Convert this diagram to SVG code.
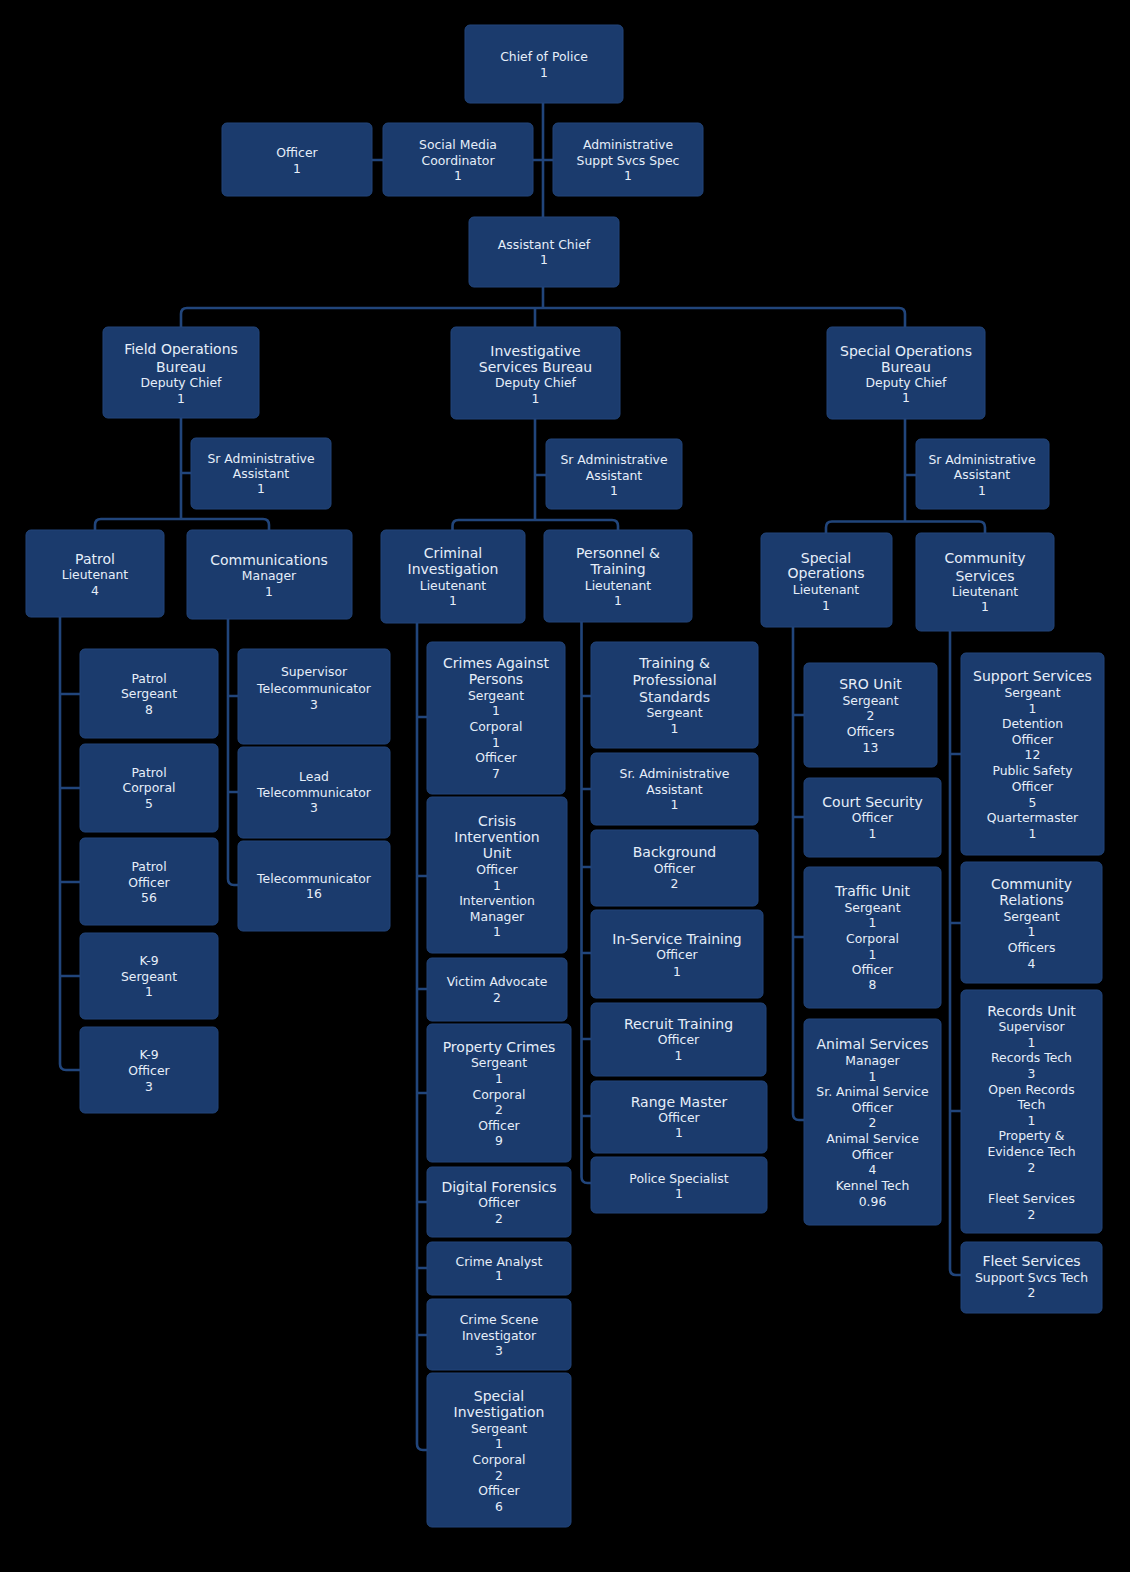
<svg xmlns="http://www.w3.org/2000/svg" width="1130" height="1572" viewBox="0 0 1130 1572">
<style>
.bg{fill:#000}
.n rect{fill:#1b3b6d;stroke:#22457a;stroke-width:1}
text{font-family:"DejaVu Sans","Liberation Sans",sans-serif;fill:#e6eef9;text-anchor:middle}
.t{font-size:14px}
.s{font-size:12.4px}
.c{fill:none;stroke:#21457b;stroke-width:2.6;stroke-linejoin:round}
</style>
<rect class="bg" x="0" y="0" width="1130" height="1572"/>
<g id="connectors" class="c">
<path d="M543,103V217M372,160H383M532,160H553M543,287V308"/>
<path d="M181,327V314Q181,308 187,308H899Q905,308 905,314V327M535,308V327"/>
<path d="M181,418V519M181,473H191M95,530V525Q95,519 101,519H263Q269,519 269,525V530"/>
<path d="M535,419V520M535,475H546M452.5,530V526Q452.5,520 458.5,520H612Q618,520 618,526V530"/>
<path d="M905,419V521.5M905,475H916M826,533V527.5Q826,521.5 832,521.5H979Q985,521.5 985,527.5V533"/>
<path d="M60,617V1064Q60,1070 66,1070H80M60,694H80M60,788H80M60,882H80M60,976H80"/>
<path d="M228,619V879Q228,885 234,885H238M228,696H238M228,792H238"/>
<path d="M417,623V1444Q417,1450 423,1450H427M417,717H427M417,876H427M417,989H427M417,1093H427M417,1202H427M417,1268H427M417,1335H427"/>
<path d="M581.5,622V1177Q581.5,1183 587.5,1183H591M581.5,696H591M581.5,789H591M581.5,867H591M581.5,953H591M581.5,1039H591M581.5,1116H591"/>
<path d="M793,627V1114Q793,1120 799,1120H804M793,715H804M793,817H804M793,937H804"/>
<path d="M950,631V1269Q950,1275 956,1275H961M950,754H961M950,923H961M950,1111H961"/>
</g>
<g id="chief" class="n"><rect x="465" y="25" width="158" height="78" rx="5"/><text class="s"><tspan x="544" y="61">Chief of Police</tspan><tspan x="544" y="77.4">1</tspan></text></g>
<g id="officer" class="n"><rect x="222" y="123" width="150" height="73" rx="5"/><text class="s"><tspan x="297" y="157">Officer</tspan><tspan x="297" y="173.4">1</tspan></text></g>
<g id="social" class="n"><rect x="383" y="123" width="150" height="73" rx="5"/><text class="s"><tspan x="458" y="149.4">Social Media</tspan><tspan x="458" y="165">Coordinator</tspan><tspan x="458" y="180.4">1</tspan></text></g>
<g id="admin" class="n"><rect x="553" y="123" width="150" height="73" rx="5"/><text class="s"><tspan x="628" y="149.4">Administrative</tspan><tspan x="628" y="165">Suppt Svcs Spec</tspan><tspan x="628" y="180.4">1</tspan></text></g>
<g id="asst" class="n"><rect x="469" y="217" width="150" height="70" rx="5"/><text class="s"><tspan x="544" y="249.4">Assistant Chief</tspan><tspan x="544" y="264.4">1</tspan></text></g>
<g id="fob" class="n"><rect x="103" y="327" width="156" height="91" rx="5"/><text><tspan class="t" x="181" y="354.3">Field Operations</tspan><tspan class="t" x="181" y="371.7">Bureau</tspan><tspan class="s" x="181" y="387.1">Deputy Chief</tspan><tspan class="s" x="181" y="402.7">1</tspan></text></g>
<g id="isb" class="n"><rect x="451" y="327" width="169" height="92" rx="5"/><text><tspan class="t" x="535.5" y="355.7">Investigative</tspan><tspan class="t" x="535.5" y="371.7">Services Bureau</tspan><tspan class="s" x="535.5" y="387.1">Deputy Chief</tspan><tspan class="s" x="535.5" y="403.4">1</tspan></text></g>
<g id="sob" class="n"><rect x="827" y="327" width="158" height="92" rx="5"/><text><tspan class="t" x="906" y="355.7">Special Operations</tspan><tspan class="t" x="906" y="371.7">Bureau</tspan><tspan class="s" x="906" y="387.1">Deputy Chief</tspan><tspan class="s" x="906" y="402.4">1</tspan></text></g>
<g id="fob-sra" class="n"><rect x="191" y="438" width="140" height="71" rx="5"/><text class="s"><tspan x="261" y="463.4">Sr Administrative</tspan><tspan x="261" y="478.4">Assistant</tspan><tspan x="261" y="493.4">1</tspan></text></g>
<g id="isb-sra" class="n"><rect x="546" y="439" width="136" height="70" rx="5"/><text class="s"><tspan x="614" y="464.4">Sr Administrative</tspan><tspan x="614" y="480.1">Assistant</tspan><tspan x="614" y="495.1">1</tspan></text></g>
<g id="sob-sra" class="n"><rect x="916" y="439" width="133" height="70" rx="5"/><text class="s"><tspan x="982" y="464.4">Sr Administrative</tspan><tspan x="982" y="479.4">Assistant</tspan><tspan x="982" y="495.1">1</tspan></text></g>
<g id="patrol" class="n"><rect x="26" y="530" width="138" height="87" rx="5"/><text><tspan class="t" x="95" y="564">Patrol</tspan><tspan class="s" x="95" y="579.1">Lieutenant</tspan><tspan class="s" x="95" y="595.4">4</tspan></text></g>
<g id="comms" class="n"><rect x="187" y="530" width="165" height="89" rx="5"/><text><tspan class="t" x="269" y="565">Communications</tspan><tspan class="s" x="269" y="580.1">Manager</tspan><tspan class="s" x="269" y="596.1">1</tspan></text></g>
<g id="ci" class="n"><rect x="381" y="530" width="144" height="93" rx="5"/><text><tspan class="t" x="453" y="558.3">Criminal</tspan><tspan class="t" x="453" y="574.3">Investigation</tspan><tspan class="s" x="453" y="590.4">Lieutenant</tspan><tspan class="s" x="453" y="605.4">1</tspan></text></g>
<g id="pt" class="n"><rect x="544" y="530" width="148" height="92" rx="5"/><text><tspan class="t" x="618" y="558.3">Personnel &amp;</tspan><tspan class="t" x="618" y="574.3">Training</tspan><tspan class="s" x="618" y="590.4">Lieutenant</tspan><tspan class="s" x="618" y="605.4">1</tspan></text></g>
<g id="spo" class="n"><rect x="761" y="533" width="131" height="94" rx="5"/><text><tspan class="t" x="826" y="562.7">Special</tspan><tspan class="t" x="826" y="578.3">Operations</tspan><tspan class="s" x="826" y="594.4">Lieutenant</tspan><tspan class="s" x="826" y="610.4">1</tspan></text></g>
<g id="cs" class="n"><rect x="916" y="533" width="138" height="98" rx="5"/><text><tspan class="t" x="985" y="563.3">Community</tspan><tspan class="t" x="985" y="580.7">Services</tspan><tspan class="s" x="985" y="596.1">Lieutenant</tspan><tspan class="s" x="985" y="611.1">1</tspan></text></g>
<g id="patrol-sgt" class="n"><rect x="80" y="649" width="138" height="89" rx="5"/><text class="s"><tspan x="149" y="683.4">Patrol</tspan><tspan x="149" y="698.4">Sergeant</tspan><tspan x="149" y="713.7">8</tspan></text></g>
<g id="patrol-cpl" class="n"><rect x="80" y="744" width="138" height="88" rx="5"/><text class="s"><tspan x="149" y="777.4">Patrol</tspan><tspan x="149" y="792.4">Corporal</tspan><tspan x="149" y="807.7">5</tspan></text></g>
<g id="patrol-off" class="n"><rect x="80" y="838" width="138" height="87" rx="5"/><text class="s"><tspan x="149" y="871.1">Patrol</tspan><tspan x="149" y="887.1">Officer</tspan><tspan x="149" y="902.1">56</tspan></text></g>
<g id="k9-sgt" class="n"><rect x="80" y="933" width="138" height="86" rx="5"/><text class="s"><tspan x="149" y="965.1">K-9</tspan><tspan x="149" y="981.1">Sergeant</tspan><tspan x="149" y="996.1">1</tspan></text></g>
<g id="k9-off" class="n"><rect x="80" y="1027" width="138" height="86" rx="5"/><text class="s"><tspan x="149" y="1058.7">K-9</tspan><tspan x="149" y="1075.1">Officer</tspan><tspan x="149" y="1091.1">3</tspan></text></g>
<g id="sup-tele" class="n"><rect x="238" y="649" width="152" height="95" rx="5"/><text class="s"><tspan x="314" y="676.1">Supervisor</tspan><tspan x="314" y="693.1">Telecommunicator</tspan><tspan x="314" y="708.7">3</tspan></text></g>
<g id="lead-tele" class="n"><rect x="238" y="747" width="152" height="91" rx="5"/><text class="s"><tspan x="314" y="781.1">Lead</tspan><tspan x="314" y="797.1">Telecommunicator</tspan><tspan x="314" y="812.1">3</tspan></text></g>
<g id="tele" class="n"><rect x="238" y="841" width="152" height="90" rx="5"/><text class="s"><tspan x="314" y="883.1">Telecommunicator</tspan><tspan x="314" y="898.4">16</tspan></text></g>
<g id="cap" class="n"><rect x="427" y="642" width="138" height="152" rx="5"/><text class="s"><tspan class="t" x="496" y="668.3">Crimes Against</tspan><tspan class="t" x="496" y="684.3">Persons</tspan><tspan x="496" y="700.1">Sergeant</tspan><tspan x="496" y="715.1">1</tspan><tspan x="496" y="731.4">Corporal</tspan><tspan x="496" y="747.1">1</tspan><tspan x="496" y="762.4">Officer</tspan><tspan x="496" y="778.4">7</tspan></text></g>
<g id="ciu" class="n"><rect x="427" y="797" width="140" height="156" rx="5"/><text class="s"><tspan class="t" x="497" y="825.7">Crisis</tspan><tspan class="t" x="497" y="842.3">Intervention</tspan><tspan class="t" x="497" y="858.3">Unit</tspan><tspan x="497" y="874.4">Officer</tspan><tspan x="497" y="890.1">1</tspan><tspan x="497" y="905.1">Intervention</tspan><tspan x="497" y="921.1">Manager</tspan><tspan x="497" y="936.4">1</tspan></text></g>
<g id="va" class="n"><rect x="427" y="958" width="140" height="63" rx="5"/><text class="s"><tspan x="497" y="986.1">Victim Advocate</tspan><tspan x="497" y="1002.1">2</tspan></text></g>
<g id="pc" class="n"><rect x="427" y="1024" width="144" height="138" rx="5"/><text class="s"><tspan class="t" x="499" y="1052.3">Property Crimes</tspan><tspan x="499" y="1067.1">Sergeant</tspan><tspan x="499" y="1082.7">1</tspan><tspan x="499" y="1099.4">Corporal</tspan><tspan x="499" y="1114.4">2</tspan><tspan x="499" y="1130.1">Officer</tspan><tspan x="499" y="1145.1">9</tspan></text></g>
<g id="df" class="n"><rect x="427" y="1167" width="144" height="70" rx="5"/><text class="s"><tspan class="t" x="499" y="1192.3">Digital Forensics</tspan><tspan x="499" y="1207.1">Officer</tspan><tspan x="499" y="1222.7">2</tspan></text></g>
<g id="ca" class="n"><rect x="427" y="1242" width="144" height="53" rx="5"/><text class="s"><tspan x="499" y="1266.1">Crime Analyst</tspan><tspan x="499" y="1280.4">1</tspan></text></g>
<g id="csi" class="n"><rect x="427" y="1299" width="144" height="71" rx="5"/><text class="s"><tspan x="499" y="1324.4">Crime Scene</tspan><tspan x="499" y="1340.4">Investigator</tspan><tspan x="499" y="1355.4">3</tspan></text></g>
<g id="si" class="n"><rect x="427" y="1373" width="144" height="154" rx="5"/><text class="s"><tspan class="t" x="499" y="1400.7">Special</tspan><tspan class="t" x="499" y="1417.3">Investigation</tspan><tspan x="499" y="1433.4">Sergeant</tspan><tspan x="499" y="1447.7">1</tspan><tspan x="499" y="1464.4">Corporal</tspan><tspan x="499" y="1480.4">2</tspan><tspan x="499" y="1495.1">Officer</tspan><tspan x="499" y="1511.1">6</tspan></text></g>
<g id="tps" class="n"><rect x="591" y="642" width="167" height="106" rx="5"/><text class="s"><tspan class="t" x="674.5" y="668.3">Training &amp;</tspan><tspan class="t" x="674.5" y="685">Professional</tspan><tspan class="t" x="674.5" y="702.3">Standards</tspan><tspan x="674.5" y="717.1">Sergeant</tspan><tspan x="674.5" y="733.1">1</tspan></text></g>
<g id="pt-sraa" class="n"><rect x="591" y="753" width="167" height="72" rx="5"/><text class="s"><tspan x="674.5" y="778.4">Sr. Administrative</tspan><tspan x="674.5" y="793.7">Assistant</tspan><tspan x="674.5" y="808.7">1</tspan></text></g>
<g id="bg" class="n"><rect x="591" y="830" width="167" height="76" rx="5"/><text class="s"><tspan class="t" x="674.5" y="857.3">Background</tspan><tspan x="674.5" y="873.1">Officer</tspan><tspan x="674.5" y="888.4">2</tspan></text></g>
<g id="ist" class="n"><rect x="591" y="910" width="172" height="88" rx="5"/><text class="s"><tspan class="t" x="677" y="944">In-Service Training</tspan><tspan x="677" y="959.4">Officer</tspan><tspan x="677" y="976.1">1</tspan></text></g>
<g id="rt" class="n"><rect x="591" y="1003" width="175" height="73" rx="5"/><text class="s"><tspan class="t" x="678.5" y="1029">Recruit Training</tspan><tspan x="678.5" y="1044.4">Officer</tspan><tspan x="678.5" y="1060.4">1</tspan></text></g>
<g id="rm" class="n"><rect x="591" y="1081" width="176" height="72" rx="5"/><text class="s"><tspan class="t" x="679" y="1106.7">Range Master</tspan><tspan x="679" y="1122.1">Officer</tspan><tspan x="679" y="1137.1">1</tspan></text></g>
<g id="ps" class="n"><rect x="591" y="1157" width="176" height="56" rx="5"/><text class="s"><tspan x="679" y="1182.7">Police Specialist</tspan><tspan x="679" y="1198.4">1</tspan></text></g>
<g id="sro" class="n"><rect x="804" y="663" width="133" height="104" rx="5"/><text class="s"><tspan class="t" x="870.5" y="689">SRO Unit</tspan><tspan x="870.5" y="705.1">Sergeant</tspan><tspan x="870.5" y="720.4">2</tspan><tspan x="870.5" y="736.1">Officers</tspan><tspan x="870.5" y="751.7">13</tspan></text></g>
<g id="csec" class="n"><rect x="804" y="778" width="137" height="79" rx="5"/><text class="s"><tspan class="t" x="872.5" y="807.3">Court Security</tspan><tspan x="872.5" y="822.1">Officer</tspan><tspan x="872.5" y="837.7">1</tspan></text></g>
<g id="tu" class="n"><rect x="804" y="867" width="137" height="141" rx="5"/><text class="s"><tspan class="t" x="872.5" y="896">Traffic Unit</tspan><tspan x="872.5" y="912.1">Sergeant</tspan><tspan x="872.5" y="927.1">1</tspan><tspan x="872.5" y="943.4">Corporal</tspan><tspan x="872.5" y="958.7">1</tspan><tspan x="872.5" y="974.4">Officer</tspan><tspan x="872.5" y="989.4">8</tspan></text></g>
<g id="as" class="n"><rect x="804" y="1019" width="137" height="206" rx="5"/><text class="s"><tspan class="t" x="872.5" y="1049.3">Animal Services</tspan><tspan x="872.5" y="1065.4">Manager</tspan><tspan x="872.5" y="1081.1">1</tspan><tspan x="872.5" y="1096.1">Sr. Animal Service</tspan><tspan x="872.5" y="1112.1">Officer</tspan><tspan x="872.5" y="1127.1">2</tspan><tspan x="872.5" y="1143.4">Animal Service</tspan><tspan x="872.5" y="1159.1">Officer</tspan><tspan x="872.5" y="1174.4">4</tspan><tspan x="872.5" y="1190.1">Kennel Tech</tspan><tspan x="872.5" y="1206.1">0.96</tspan></text></g>
<g id="ss" class="n"><rect x="961" y="653" width="143" height="202" rx="5"/><text class="s"><tspan class="t" x="1032.5" y="681">Support Services</tspan><tspan x="1032.5" y="697.1">Sergeant</tspan><tspan x="1032.5" y="712.7">1</tspan><tspan x="1032.5" y="728.4">Detention</tspan><tspan x="1032.5" y="743.7">Officer</tspan><tspan x="1032.5" y="759.4">12</tspan><tspan x="1032.5" y="775.1">Public Safety</tspan><tspan x="1032.5" y="791.1">Officer</tspan><tspan x="1032.5" y="806.7">5</tspan><tspan x="1032.5" y="822.1">Quartermaster</tspan><tspan x="1032.5" y="837.7">1</tspan></text></g>
<g id="cr" class="n"><rect x="961" y="862" width="141" height="121" rx="5"/><text class="s"><tspan class="t" x="1031.5" y="889.3">Community</tspan><tspan class="t" x="1031.5" y="905">Relations</tspan><tspan x="1031.5" y="921.1">Sergeant</tspan><tspan x="1031.5" y="936.1">1</tspan><tspan x="1031.5" y="952.1">Officers</tspan><tspan x="1031.5" y="967.7">4</tspan></text></g>
<g id="ru" class="n"><rect x="961" y="990" width="141" height="243" rx="5"/><text class="s"><tspan class="t" x="1031.5" y="1015.7">Records Unit</tspan><tspan x="1031.5" y="1031.4">Supervisor</tspan><tspan x="1031.5" y="1047.1">1</tspan><tspan x="1031.5" y="1062.1">Records Tech</tspan><tspan x="1031.5" y="1078.4">3</tspan><tspan x="1031.5" y="1094.4">Open Records</tspan><tspan x="1031.5" y="1109.4">Tech</tspan><tspan x="1031.5" y="1125.1">1</tspan><tspan x="1031.5" y="1140.4">Property &amp;</tspan><tspan x="1031.5" y="1156.1">Evidence Tech</tspan><tspan x="1031.5" y="1172.1">2</tspan><tspan x="1031.5" y="1203.4">Fleet Services</tspan><tspan x="1031.5" y="1219.4">2</tspan></text></g>
<g id="fs" class="n"><rect x="961" y="1242" width="141" height="71" rx="5"/><text class="s"><tspan class="t" x="1031.5" y="1266">Fleet Services</tspan><tspan x="1031.5" y="1282.1">Support Svcs Tech</tspan><tspan x="1031.5" y="1297.1">2</tspan></text></g>
</svg>
